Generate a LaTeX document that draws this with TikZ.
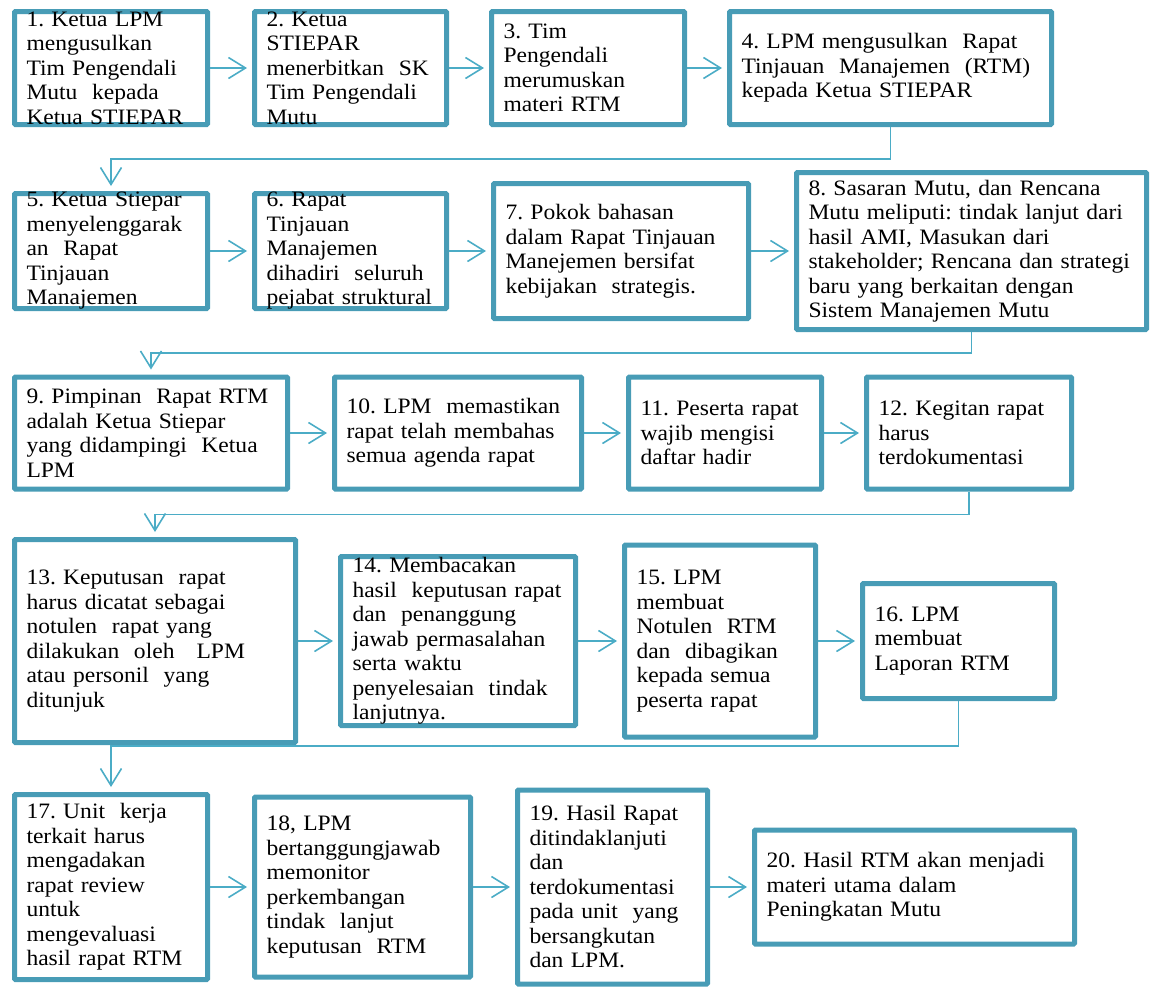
\documentclass[tikz,border=0pt]{standalone}
\usepackage{fontspec}
\setmainfont{Liberation Serif}[FakeStretch=1.07]
\usetikzlibrary{arrows.meta,positioning}
\definecolor{boxline}{RGB}{72,156,182}
\definecolor{arrline}{RGB}{75,172,198}
\frenchspacing

\begin{document}
\begin{tikzpicture}[
  x=1pt, y=-1pt,
  font=\fontsize{22}{24.5}\selectfont,
  node distance=42pt,
  box/.style={draw=boxline,line width=5pt,rounded corners=1pt,fill=white,align=left,inner xsep=12pt,inner ysep=-4pt},
  arr/.style={draw=arrline,line width=1.6pt,-{Straight Barb[length=17pt,width=21pt]},shorten >=5pt}
]
\useasboundingbox (0,0) rectangle (1158,986);
\node[box,text width=169pt,minimum height=113pt,anchor=west] (s1) at (12,68) {1. Ketua LPM\\ mengusulkan\\ Tim Pengendali\\ Mutu\ \ kepada\\ Ketua STIEPAR};
\node[box,text width=168pt,minimum height=113pt,right=of s1] (s2) {2. Ketua\\ STIEPAR\\ menerbitkan\ \ SK\\ Tim Pengendali\\ Mutu};
\node[box,text width=169pt,minimum height=113pt,right=40pt of s2] (s3) {3. Tim\\ Pengendali\\ merumuskan\\ materi RTM};
\node[box,text width=298pt,minimum height=113pt,right=40pt of s3] (s4) {4. LPM mengusulkan\ \ Rapat\\ Tinjauan\ \ Manajemen\ \ (RTM)\\ kepada Ketua STIEPAR};
\node[box,text width=169pt,minimum height=115pt,anchor=west] (s5) at (12,251) {5. Ketua Stiepar\\ menyelenggarak\\ an\ \ Rapat\\ Tinjauan\\ Manajemen};
\node[box,text width=168pt,minimum height=115pt,right=of s5] (s6) {6. Rapat\\ Tinjauan\\ Manajemen\\ dihadiri\ \ seluruh\\ pejabat struktural};
\node[box,text width=231pt,minimum height=135pt,right=of s6] (s7) {7. Pokok bahasan\\ dalam Rapat Tinjauan\\ Manejemen bersifat\\ kebijakan\ \ strategis.};
\node[box,text width=326pt,minimum height=157pt,right=43pt of s7] (s8) {8. Sasaran Mutu, dan Rencana\\ Mutu meliputi: tindak lanjut dari\\ hasil AMI, Masukan dari\\ stakeholder; Rencana dan strategi\\ baru yang berkaitan dengan\\ Sistem Manajemen Mutu};
\node[box,text width=249pt,minimum height=112pt,anchor=west] (s9) at (12,433) {9. Pimpinan\ \ Rapat RTM\\ adalah Ketua Stiepar\\ yang didampingi\ \ Ketua\\ LPM};
\node[box,text width=223pt,minimum height=112pt,right=of s9] (s10) {10. LPM\ \ memastikan\\ rapat telah membahas\\ semua agenda rapat};
\node[box,text width=169pt,minimum height=112pt,right=of s10] (s11) {11. Peserta rapat\\ wajib mengisi\\ daftar hadir};
\node[box,text width=181pt,minimum height=112pt,right=40pt of s11] (s12) {12. Kegitan rapat\\ harus\\ terdokumentasi};
\node[box,text width=257pt,minimum height=203pt,anchor=west] (s13) at (12,641) {13. Keputusan\ \ rapat\\ harus dicatat sebagai\\ notulen\ \ rapat yang\\ dilakukan\ \ oleh\quad LPM\\ atau personil\ \ yang\\ ditunjuk};
\node[box,text width=211pt,minimum height=169pt,right=40pt of s13] (s14) {14. Membacakan\\ hasil\ \ keputusan rapat\\ dan\ \ penanggung\\ jawab permasalahan\\ serta waktu\\ penyelesaian\ \ tindak\\ lanjutnya.};
\node[box,text width=167pt,minimum height=192pt,right=44pt of s14] (s15) {15. LPM\\ membuat\\ Notulen\ \ RTM\\ dan\ \ dibagikan\\ kepada semua\\ peserta rapat};
\node[box,text width=168pt,minimum height=115pt,right=of s15] (s16) {16. LPM\\ membuat\\ Laporan RTM};
\node[box,text width=169pt,minimum height=185pt,anchor=west] (s17) at (12,887) {17. Unit\ \ kerja\\ terkait harus\\ mengadakan\\ rapat review\\ untuk\\ mengevaluasi\\ hasil rapat RTM};
\node[box,text width=192pt,minimum height=180pt,right=of s17] (s18) {18, LPM\\ bertanggungjawab\\ memonitor\\ perkembangan\\ tindak\ \ lanjut\\ keputusan\ \ RTM};
\node[box,text width=166pt,minimum height=194pt,right=of s18] (s19) {19. Hasil Rapat\\ ditindaklanjuti\\ dan\\ terdokumentasi\\ pada unit\ \ yang\\ bersangkutan\\ dan LPM.};
\node[box,text width=296pt,minimum height=114pt,right=of s19] (s20) {20. Hasil RTM akan menjadi\\ materi utama dalam\\ Peningkatan Mutu};
\draw[arr] (s1) -- (s2);
\draw[arr] (s2) -- (s3);
\draw[arr] (s3) -- (s4);
\draw[arr] (s4.south) -- ++(0,32) -| (s5.north);
\draw[arr] (s5) -- (s6);
\draw[arr] (s6) -- (s7);
\draw[arr] (s7) -- (s8);
\draw[arr] (s8.south) -- ++(0,21) -| (s9.north);
\draw[arr] (s9) -- (s10);
\draw[arr] (s10) -- (s11);
\draw[arr] (s11) -- (s12);
\draw[arr] (s12.south) -- ++(0,23) -| (s13.north);
\draw[arr] (s13) -- (s14);
\draw[arr] (s14) -- (s15);
\draw[arr] (s15) -- (s16);
\draw[arr] (s16.south) -- ++(0,45) -| (s17.north);
\draw[arr] (s17) -- (s18);
\draw[arr] (s18) -- (s19);
\draw[arr] (s19) -- (s20);
\end{tikzpicture}
\end{document}
